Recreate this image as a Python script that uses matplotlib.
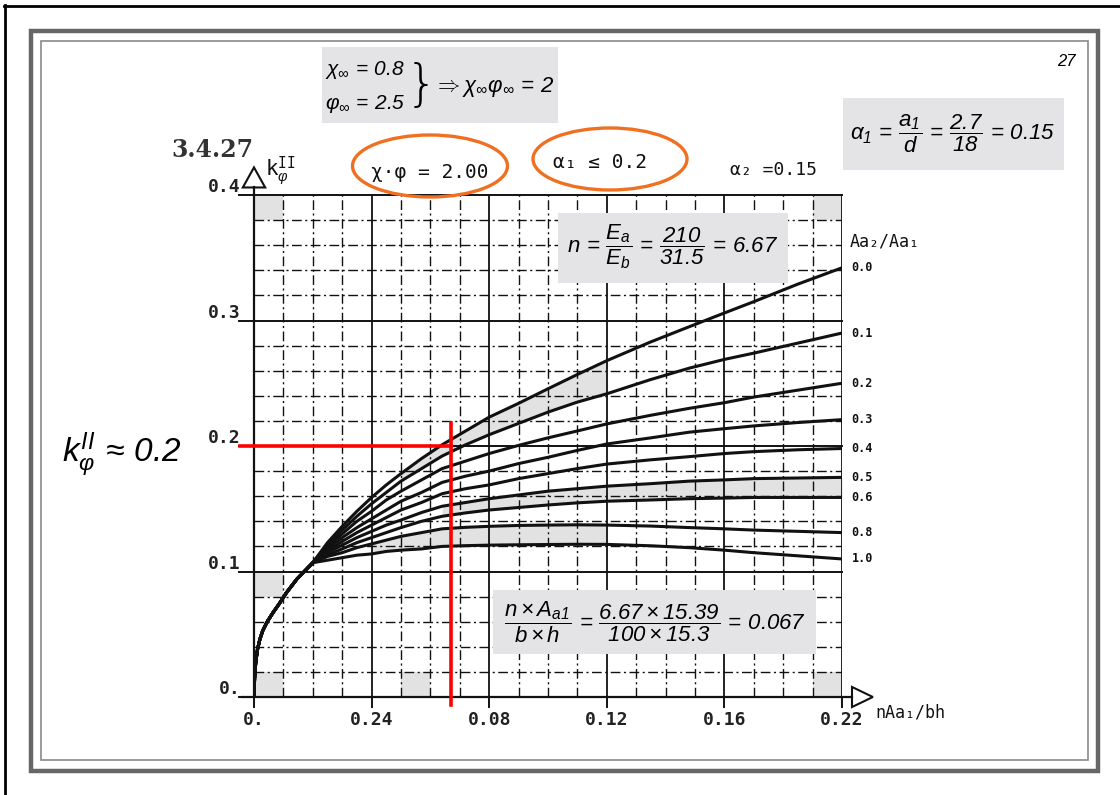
import numpy as np
import matplotlib
matplotlib.use("Agg")
import matplotlib.pyplot as plt
from matplotlib.patches import Rectangle, Ellipse, Polygon

plt.rcParams["mathtext.fontset"] = "custom"
plt.rcParams["mathtext.rm"] = "Liberation Sans:italic"
plt.rcParams["mathtext.it"] = "Liberation Sans:italic"
plt.rcParams["mathtext.sf"] = "Liberation Sans"
plt.rcParams["mathtext.tt"] = "DejaVu Sans Mono"

# n*Aa1/bh (bottom axis)
mu = [0.0, 0.0002, 0.0006, 0.0012, 0.002, 0.003, 0.0045, 0.0064, 0.0085,
      0.011, 0.0146, 0.02, 0.025, 0.03, 0.035, 0.04, 0.045, 0.05, 0.057,
      0.064, 0.072, 0.08, 0.09, 0.10, 0.11, 0.12, 0.135, 0.148, 0.16, 0.17,
      0.185, 0.20]

# k_phi^II for each Aa2/Aa1
k_00 = [0.0, 0.015, 0.028, 0.038, 0.046, 0.053, 0.060, 0.067, 0.074, 0.083,
        0.094, 0.107, 0.123, 0.136, 0.148, 0.159, 0.169, 0.178, 0.190, 0.201,
        0.212, 0.223, 0.234, 0.2456, 0.257, 0.268, 0.283, 0.295, 0.306, 0.315,
        0.329, 0.342]
k_01 = [0.0, 0.015, 0.028, 0.038, 0.046, 0.053, 0.060, 0.067, 0.074, 0.083,
        0.094, 0.107, 0.121, 0.133, 0.144, 0.154, 0.163, 0.172, 0.182, 0.192,
        0.201, 0.209, 0.218, 0.227, 0.235, 0.2416, 0.253, 0.262, 0.269, 0.274,
        0.282, 0.290]
k_02 = [0.0, 0.015, 0.028, 0.038, 0.046, 0.053, 0.060, 0.067, 0.074, 0.083,
        0.094, 0.107, 0.120, 0.130, 0.140, 0.148, 0.157, 0.164, 0.173, 0.182,
        0.188, 0.194, 0.2005, 0.2065, 0.212, 0.2176, 0.2245, 0.230, 0.2345,
        0.239, 0.2445, 0.250]
k_03 = [0.0, 0.015, 0.028, 0.038, 0.046, 0.053, 0.060, 0.067, 0.074, 0.083,
        0.094, 0.107, 0.118, 0.127, 0.135, 0.142, 0.149, 0.156, 0.163, 0.171,
        0.176, 0.180, 0.186, 0.191, 0.1965, 0.2016, 0.2065, 0.211, 0.2138,
        0.216, 0.2187, 0.221]
k_04 = [0.0, 0.015, 0.028, 0.038, 0.046, 0.053, 0.060, 0.067, 0.074, 0.083,
        0.094, 0.107, 0.116, 0.124, 0.131, 0.137, 0.143, 0.149, 0.155, 0.162,
        0.166, 0.169, 0.174, 0.178, 0.182, 0.1856, 0.189, 0.1915, 0.194,
        0.1955, 0.197, 0.198]
k_05 = [0.0, 0.015, 0.028, 0.038, 0.046, 0.053, 0.060, 0.067, 0.074, 0.083,
        0.094, 0.107, 0.115, 0.121, 0.127, 0.132, 0.137, 0.141, 0.147, 0.152,
        0.155, 0.158, 0.161, 0.164, 0.166, 0.168, 0.170, 0.172, 0.173, 0.174,
        0.1745, 0.175]
k_06 = [0.0, 0.015, 0.028, 0.038, 0.046, 0.053, 0.060, 0.067, 0.074, 0.083,
        0.094, 0.107, 0.113, 0.118, 0.123, 0.127, 0.131, 0.135, 0.140, 0.144,
        0.1467, 0.149, 0.151, 0.153, 0.1547, 0.156, 0.157, 0.158, 0.1585,
        0.159, 0.159, 0.159]
k_08 = [0.0, 0.015, 0.028, 0.038, 0.046, 0.053, 0.060, 0.067, 0.074, 0.083,
        0.094, 0.107, 0.112, 0.115, 0.119, 0.122, 0.125, 0.128, 0.131, 0.134,
        0.1352, 0.136, 0.1367, 0.137, 0.1372, 0.137, 0.1362, 0.135, 0.134,
        0.133, 0.132, 0.131]
k_10 = [0.0, 0.015, 0.028, 0.038, 0.046, 0.053, 0.060, 0.067, 0.074, 0.083,
        0.094, 0.107, 0.109, 0.111, 0.113, 0.114, 0.116, 0.117, 0.118, 0.120,
        0.1206, 0.121, 0.1213, 0.1215, 0.1217, 0.1216, 0.1205, 0.119, 0.117,
        0.115, 0.1125, 0.110]

ratio_labels = ["0.0", "0.1", "0.2", "0.3", "0.4", "0.5", "0.6", "0.8", "1.0"]
curves = [k_00, k_01, k_02, k_03, k_04, k_05, k_06, k_08, k_10]

x_ticks = [0.0, 0.04, 0.08, 0.12, 0.16, 0.20]
x_tick_text = ["0.", "0.24", "0.08", "0.12", "0.16", "0.22"]
y_ticks = [0.0, 0.1, 0.2, 0.3, 0.4]
y_tick_text = ["0.", "0.1", "0.2", "0.3", "0.4"]

# worked example
mu_calc = 0.067
k_calc = 0.2

W, H = 1120, 795
fig = plt.figure(figsize=(W / 100, H / 100), dpi=100)
fig.patch.set_facecolor("white")

ax = fig.add_axes([254 / W, 1 - 697 / H, 588 / W, 502 / H])
ax.set_xlim(0, 0.20)
ax.set_ylim(0, 0.40)
ax.axis("off")

ink = "#111111"
shade = "#e2e2e2"
dashdot = (0, (7, 2.5, 1.5, 2.5))

# shaded cells of the nomogram
for cx, cy, cw, ch in [(0.0, 0.38, 0.01, 0.02), (0.19, 0.38, 0.01, 0.02),
                       (0.0, 0.0, 0.01, 0.02), (0.0, 0.08, 0.01, 0.02),
                       (0.05, 0.0, 0.01, 0.02), (0.19, 0.0, 0.01, 0.02)]:
    ax.add_patch(Rectangle((cx, cy), cw, ch, color=shade, lw=0, zorder=0))

mu_arr = np.array(mu)
sel = (mu_arr >= 0.05) & (mu_arr <= 0.12)
ax.fill_between(mu_arr[sel], np.array(k_01)[sel], np.array(k_00)[sel],
                color=shade, lw=0, zorder=0)
sel = (mu_arr >= 0.064) & (mu_arr <= 0.20)
ax.fill_between(mu_arr[sel], np.array(k_06)[sel], np.array(k_05)[sel],
                color=shade, lw=0, zorder=0)
sel = (mu_arr >= 0.04) & (mu_arr <= 0.12)
ax.fill_between(mu_arr[sel], np.array(k_10)[sel], np.array(k_08)[sel],
                color=shade, lw=0, zorder=0)

# grid
for i in range(21):
    gx = i * 0.01
    if i % 4 == 0:
        ax.plot([gx, gx], [0, 0.40], color=ink, lw=1.3, zorder=1)
    elif i == 20:
        ax.plot([gx, gx], [0, 0.40], color=ink, lw=1.1, ls=(0, (2, 2)), zorder=1)
    else:
        ax.plot([gx, gx], [0, 0.40], color=ink, lw=1.0, ls=dashdot, zorder=1)
for j in range(21):
    gy = j * 0.02
    if j % 5 == 0:
        ax.plot([-0.005, 0.20], [gy, gy], color=ink, lw=1.4, zorder=1,
                clip_on=False)
    else:
        ax.plot([0, 0.20], [gy, gy], color=ink, lw=1.0, ls=dashdot, zorder=1)

# axes with hollow arrow heads
ax.plot([0, 0], [0, 0.406], color=ink, lw=1.6, clip_on=False, zorder=2)
ax.plot([-0.004, 0.2034], [0, 0], color=ink, lw=1.6, clip_on=False, zorder=2)
ax.add_patch(Polygon([[-0.0038, 0.406], [0.0038, 0.406], [0.0, 0.422]],
                     closed=True, fill=False, ec=ink, lw=1.5, clip_on=False))
ax.add_patch(Polygon([[0.2034, 0.008], [0.2034, -0.008], [0.2105, 0.0]],
                     closed=True, fill=False, ec=ink, lw=1.5, clip_on=False))

# curves
for lab, ks in zip(ratio_labels, curves):
    ax.plot(mu, ks, color=ink, lw=2.2, solid_capstyle="round",
            solid_joinstyle="round", zorder=3)
    ax.text(0.2032, ks[-1], lab, ha="left", va="center", fontsize=8.5,
            family="DejaVu Sans Mono", weight="bold", color=ink)

# tick labels
for tx, tt in zip(x_ticks, x_tick_text):
    ax.plot([tx, tx], [0, -0.008], color=ink, lw=1.4, clip_on=False)
    ax.text(tx, -0.018, tt, ha="center", va="center", fontsize=13,
            family="DejaVu Sans Mono", weight="bold", color="#222222")
for ty, tt in zip(y_ticks, y_tick_text):
    ax.text(-0.0045, ty + 0.006, tt, ha="right", va="center", fontsize=13,
            family="DejaVu Sans Mono", weight="bold", color="#222222")

ax.text(0.2025, 0.363, "Aa\u2082/Aa\u2081", ha="left", va="center",
        fontsize=12, family="DejaVu Sans Mono", color=ink)
ax.text(0.2115, -0.012, "nAa\u2081/bh", ha="left", va="center",
        fontsize=12, family="DejaVu Sans Mono", color=ink)
ax.text(0.009, 0.419, r"$\mathtt{k}_{\varphi}^{\mathtt{II}}$", ha="center",
        va="center", fontsize=15, color=ink)

# red reading lines
red = "#ff0000"
ax.plot([-0.0047, mu_calc], [k_calc, k_calc], color=red, lw=2.6,
        clip_on=False, zorder=6)
ax.plot([mu_calc, mu_calc], [-0.0064, k_calc + 0.018], color=red, lw=2.6,
        clip_on=False, zorder=6)

# page overlay in pixel units
ov = fig.add_axes([0, 0, 1, 1], zorder=5)
ov.set_xlim(0, W)
ov.set_ylim(H, 0)
ov.axis("off")
ov.patch.set_visible(False)

ov.plot([4.5, 4.5], [5, H], color="black", lw=2)
ov.plot([4, W], [5.5, 5.5], color="black", lw=2)
ov.add_patch(Rectangle((31, 31), 1067, 740, fill=False, ec="#666666", lw=3.2))
ov.add_patch(Rectangle((40.5, 40.5), 1047.5, 719.5, fill=False,
                       ec="#8a8a8a", lw=1.2))

ov.text(1066, 62, "27", ha="center", va="center", fontsize=12,
        family="Liberation Sans", style="italic")
ov.text(212, 150, "3.4.27", ha="center", va="center", fontsize=17,
        family="DejaVu Serif", weight="bold", color="#333333")

mono = dict(family="DejaVu Sans Mono", color=ink, va="center")
ov.text(430, 172, "\u03c7\u00b7\u03c6 = 2.00", ha="center", fontsize=14, **mono)
ov.text(600, 163, "\u03b1\u2081 \u2264 0.2", ha="center", fontsize=14, **mono)
ov.text(773, 170, "\u03b1\u2082 =0.15", ha="center", fontsize=13, **mono)

orange = "#f07022"
ov.add_patch(Ellipse((430, 166), 155, 62, fill=False, ec=orange, lw=2.4))
ov.add_patch(Ellipse((610, 159), 154, 62, fill=False, ec=orange, lw=2.4))

box_fc = "#e4e4e6"
ov.add_patch(Rectangle((322, 47), 236, 76, fc=box_fc, ec="none"))
ov.add_patch(Rectangle((843, 98), 221, 72, fc=box_fc, ec="none"))
ov.add_patch(Rectangle((558, 213), 230, 70, fc=box_fc, ec="none"))
ov.add_patch(Rectangle((493, 590), 323, 64, fc=box_fc, ec="none"))

ov.text(325, 70, r"$\chi_\infty\,=\,0.8$", ha="left", va="center", fontsize=15)
ov.text(325, 104, r"$\varphi_\infty\,=\,2.5$", ha="left", va="center",
        fontsize=15)
ov.text(421, 86, "}", ha="center", va="center", fontsize=36,
        family="DejaVu Sans", weight="light")
ov.text(434, 87, r"$\Rightarrow \chi_\infty\varphi_\infty\,=\,2$", ha="left",
        va="center", fontsize=16)

ov.text(953, 134,
        r"$\alpha_1\,=\,\dfrac{a_1}{d}\,=\,\dfrac{2.7}{18}\,=\,0.15$",
        ha="center", va="center", fontsize=16)
ov.text(673, 247,
        r"$n\,=\,\dfrac{E_a}{E_b}\,=\,\dfrac{210}{31.5}\,=\,6.67$",
        ha="center", va="center", fontsize=16)
ov.text(655, 622,
        r"$\dfrac{n \times A_{a1}}{b \times h}\,=\,"
        r"\dfrac{6.67 \times 15.39}{100 \times 15.3}\,=\,0.067$",
        ha="center", va="center", fontsize=16)
ov.text(62, 455, r"$k_\varphi^{II}\,\approx\,0.2$", ha="left", va="center",
        fontsize=24)

fig.savefig("out.png", dpi=100)
